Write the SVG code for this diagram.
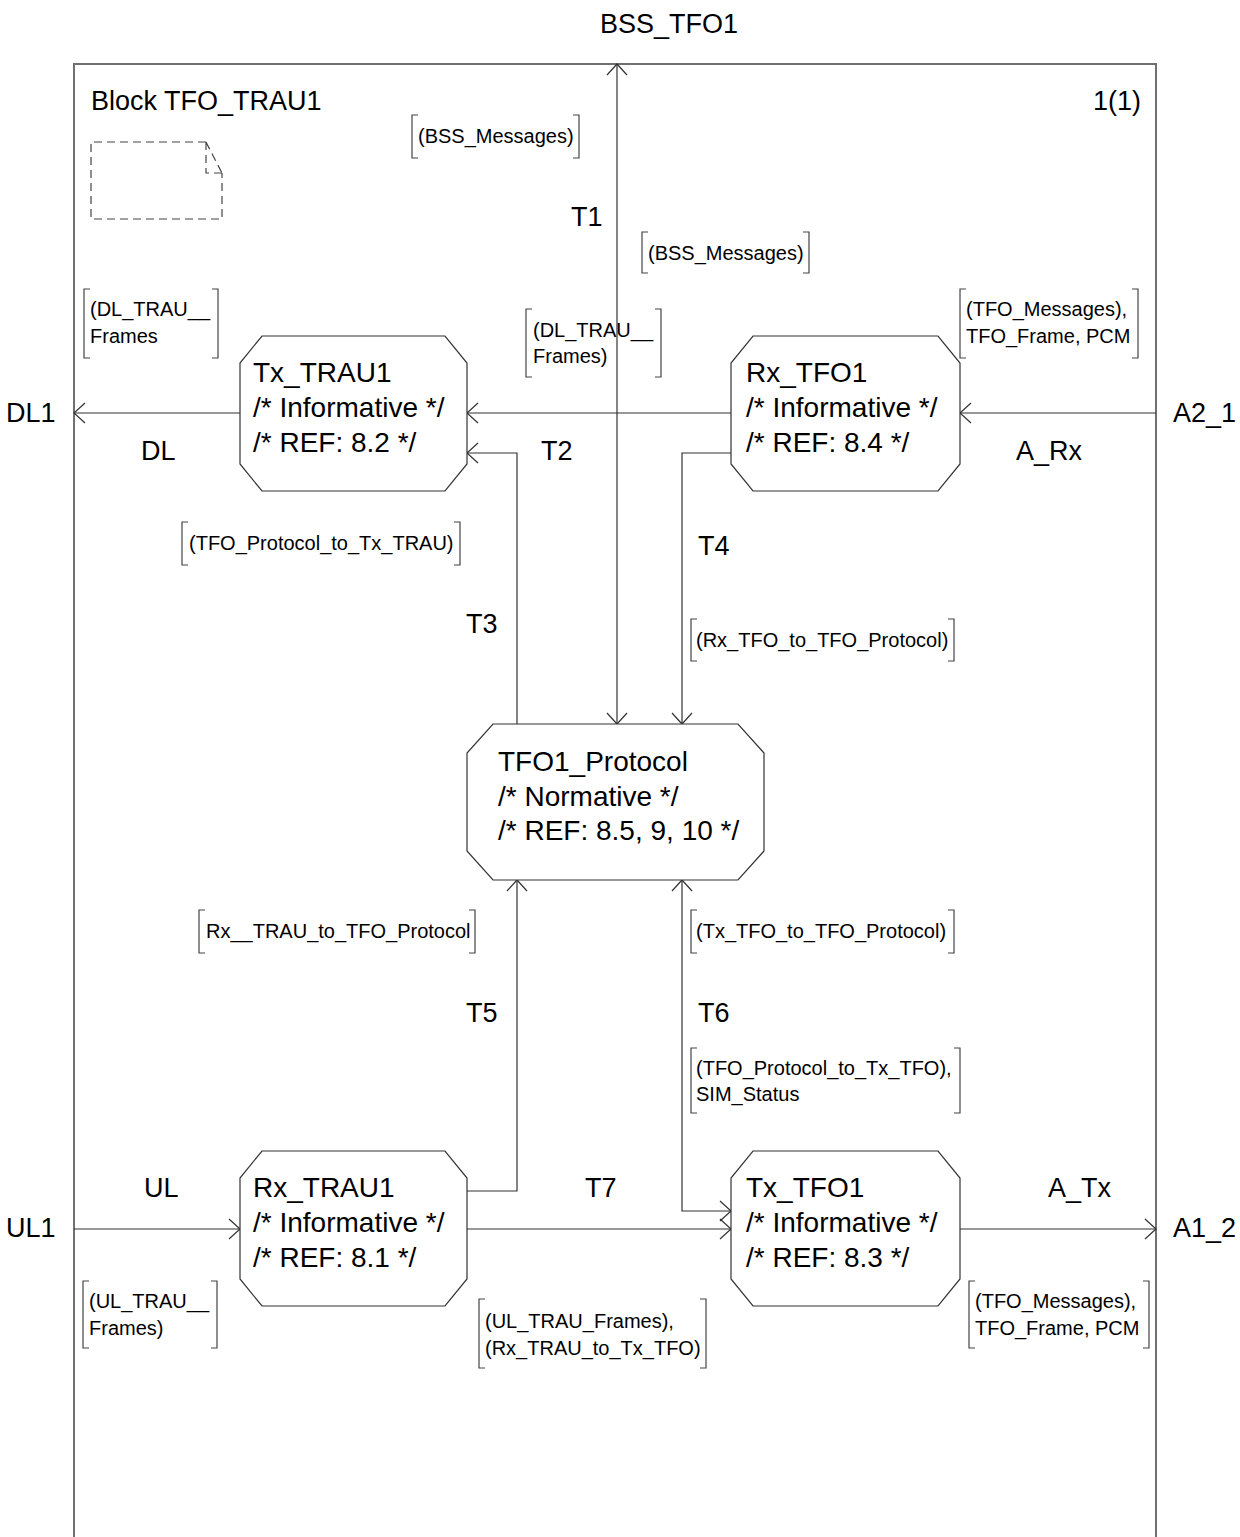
<svg xmlns="http://www.w3.org/2000/svg" width="1240" height="1537" viewBox="0 0 1240 1537">
<style>
.lbl{font-family:"Liberation Sans",Arial,sans-serif;font-size:27px;fill:#000}
.nt{font-family:"Liberation Sans",Arial,sans-serif;font-size:28px;fill:#000}
.sm{font-family:"Liberation Sans",Arial,sans-serif;font-size:20px;fill:#000}
.node{fill:#fff;stroke:#333;stroke-width:1.2}
.con{fill:none;stroke:#333;stroke-width:1.2}
.br{fill:none;stroke:#444;stroke-width:1.2}
.frame{fill:none;stroke:#707070;stroke-width:2}
.note{fill:none;stroke:#444;stroke-width:1.2;stroke-dasharray:8 5}
</style>
<defs>
<marker id="arr" markerUnits="userSpaceOnUse" viewBox="-12 -12 14 24" refX="0" refY="0" markerWidth="14" markerHeight="24" orient="auto-start-reverse">
<path d="M-11,-10 L0,0 L-11,10" fill="none" stroke="#333" stroke-width="1.2"/>
</marker>
</defs>
<rect width="1240" height="1537" fill="#fff"/>

<g id="frame">
<path class="frame" d="M74,1537 L74,64 L1156,64 L1156,1537"/>
<text class="lbl" x="91" y="110">Block TFO_TRAU1</text>
<text class="lbl" x="1141" y="110" text-anchor="end">1(1)</text>
<path class="note" d="M206,142 L91,142 L91,219 L222,219 L222,173"/>
<path class="note" d="M206,142 L222,173 M206,142 L206,173 L222,173"/>
</g>

<g id="connectors">
<path class="con" d="M240,413 L74,413" marker-end="url(#arr)"/>
<path class="con" d="M731,413 L467,413" marker-end="url(#arr)"/>
<path class="con" d="M1156,413 L960,413" marker-end="url(#arr)"/>
<path class="con" d="M517,724 L517,453 L467,453" marker-end="url(#arr)"/>
<path class="con" d="M731,453 L682,453 L682,724" marker-end="url(#arr)"/>
<path class="con" d="M617,724 L617,64" marker-start="url(#arr)" marker-end="url(#arr)"/>
<path class="con" d="M467,1191 L517,1191 L517,880" marker-end="url(#arr)"/>
<path class="con" d="M682,880 L682,1211 L731,1211" marker-start="url(#arr)" marker-end="url(#arr)"/>
<path class="con" d="M467,1229 L731,1229" marker-end="url(#arr)"/>
<path class="con" d="M74,1229 L240,1229" marker-end="url(#arr)"/>
<path class="con" d="M960,1229 L1156,1229" marker-end="url(#arr)"/>
</g>

<g id="labels">
<text class="lbl" x="600" y="33">BSS_TFO1</text>
<text class="lbl" x="571" y="226">T1</text>
<text class="lbl" x="6" y="422">DL1</text>
<text class="lbl" x="141" y="460">DL</text>
<text class="lbl" x="541" y="460">T2</text>
<text class="lbl" x="1173" y="422">A2_1</text>
<text class="lbl" x="1016" y="460">A_Rx</text>
<text class="lbl" x="698" y="555">T4</text>
<text class="lbl" x="466" y="633">T3</text>
<text class="lbl" x="466" y="1022">T5</text>
<text class="lbl" x="698" y="1022">T6</text>
<text class="lbl" x="144" y="1197">UL</text>
<text class="lbl" x="585" y="1197">T7</text>
<text class="lbl" x="1048" y="1197">A_Tx</text>
<text class="lbl" x="6" y="1237">UL1</text>
<text class="lbl" x="1173" y="1237">A1_2</text>
</g>

<g id="signals">
<path class="br" d="M418,115 L412,115 L412,158 L418,158 M573,115 L579,115 L579,158 L573,158"/>
<text class="sm" x="418" y="143">(BSS_Messages)</text>
<path class="br" d="M648,232 L642,232 L642,273 L648,273 M803,232 L809,232 L809,273 L803,273"/>
<text class="sm" x="648" y="260">(BSS_Messages)</text>
<path class="br" d="M90,289 L84,289 L84,358 L90,358 M212,289 L218,289 L218,358 L212,358"/>
<text class="sm" x="90" y="316">(DL_TRAU__</text>
<text class="sm" x="90" y="343">Frames</text>
<path class="br" d="M532,309 L526,309 L526,377 L532,377 M655,309 L661,309 L661,377 L655,377"/>
<text class="sm" x="533" y="337">(DL_TRAU__</text>
<text class="sm" x="533" y="363">Frames)</text>
<path class="br" d="M966,289 L960,289 L960,358 L966,358 M1132,289 L1138,289 L1138,358 L1132,358"/>
<text class="sm" x="966" y="316">(TFO_Messages),</text>
<text class="sm" x="966" y="343">TFO_Frame, PCM</text>
<path class="br" d="M188,522 L182,522 L182,565 L188,565 M454,522 L460,522 L460,565 L454,565"/>
<text class="sm" x="189" y="550">(TFO_Protocol_to_Tx_TRAU)</text>
<path class="br" d="M697,619 L691,619 L691,661 L697,661 M948,619 L954,619 L954,661 L948,661"/>
<text class="sm" x="696" y="647">(Rx_TFO_to_TFO_Protocol)</text>
<path class="br" d="M205,910 L199,910 L199,953 L205,953 M469,910 L475,910 L475,953 L469,953"/>
<text class="sm" x="206" y="938">Rx__TRAU_to_TFO_Protocol</text>
<path class="br" d="M697,910 L691,910 L691,953 L697,953 M948,910 L954,910 L954,953 L948,953"/>
<text class="sm" x="696" y="938">(Tx_TFO_to_TFO_Protocol)</text>
<path class="br" d="M697,1048 L691,1048 L691,1113 L697,1113 M954,1048 L960,1048 L960,1113 L954,1113"/>
<text class="sm" x="696" y="1075">(TFO_Protocol_to_Tx_TFO),</text>
<text class="sm" x="696" y="1101">SIM_Status</text>
<path class="br" d="M89,1281 L83,1281 L83,1348 L89,1348 M211,1281 L217,1281 L217,1348 L211,1348"/>
<text class="sm" x="89" y="1308">(UL_TRAU__</text>
<text class="sm" x="89" y="1335">Frames)</text>
<path class="br" d="M485,1299 L479,1299 L479,1368 L485,1368 M700,1299 L706,1299 L706,1368 L700,1368"/>
<text class="sm" x="485" y="1328">(UL_TRAU_Frames),</text>
<text class="sm" x="485" y="1355">(Rx_TRAU_to_Tx_TFO)</text>
<path class="br" d="M975,1281 L969,1281 L969,1348 L975,1348 M1143,1281 L1149,1281 L1149,1348 L1143,1348"/>
<text class="sm" x="975" y="1308">(TFO_Messages),</text>
<text class="sm" x="975" y="1335">TFO_Frame, PCM</text>
</g>

<g id="Tx_TRAU1">
<polygon class="node" points="262,336 445,336 467,363 467,464 445,491 262,491 240,464 240,363"/>
<text class="nt" x="253" y="382">Tx_TRAU1</text>
<text class="nt" x="253" y="417">/* Informative */</text>
<text class="nt" x="253" y="452">/* REF: 8.2 */</text>
</g>
<g id="Rx_TFO1">
<polygon class="node" points="753,336 938,336 960,363 960,464 938,491 753,491 731,464 731,363"/>
<text class="nt" x="746" y="382">Rx_TFO1</text>
<text class="nt" x="746" y="417">/* Informative */</text>
<text class="nt" x="746" y="452">/* REF: 8.4 */</text>
</g>
<g id="TFO1_Protocol">
<polygon class="node" points="493,724 738,724 764,753 764,851 738,880 493,880 467,851 467,753"/>
<text class="nt" x="498" y="771">TFO1_Protocol</text>
<text class="nt" x="498" y="806">/* Normative */</text>
<text class="nt" x="498" y="840">/* REF: 8.5, 9, 10 */</text>
</g>
<g id="Rx_TRAU1">
<polygon class="node" points="262,1151 445,1151 467,1178 467,1279 445,1306 262,1306 240,1279 240,1178"/>
<text class="nt" x="253" y="1197">Rx_TRAU1</text>
<text class="nt" x="253" y="1232">/* Informative */</text>
<text class="nt" x="253" y="1267">/* REF: 8.1 */</text>
</g>
<g id="Tx_TFO1">
<polygon class="node" points="753,1151 938,1151 960,1178 960,1279 938,1306 753,1306 731,1279 731,1178"/>
<text class="nt" x="746" y="1197">Tx_TFO1</text>
<text class="nt" x="746" y="1232">/* Informative */</text>
<text class="nt" x="746" y="1267">/* REF: 8.3 */</text>
</g>
</svg>
